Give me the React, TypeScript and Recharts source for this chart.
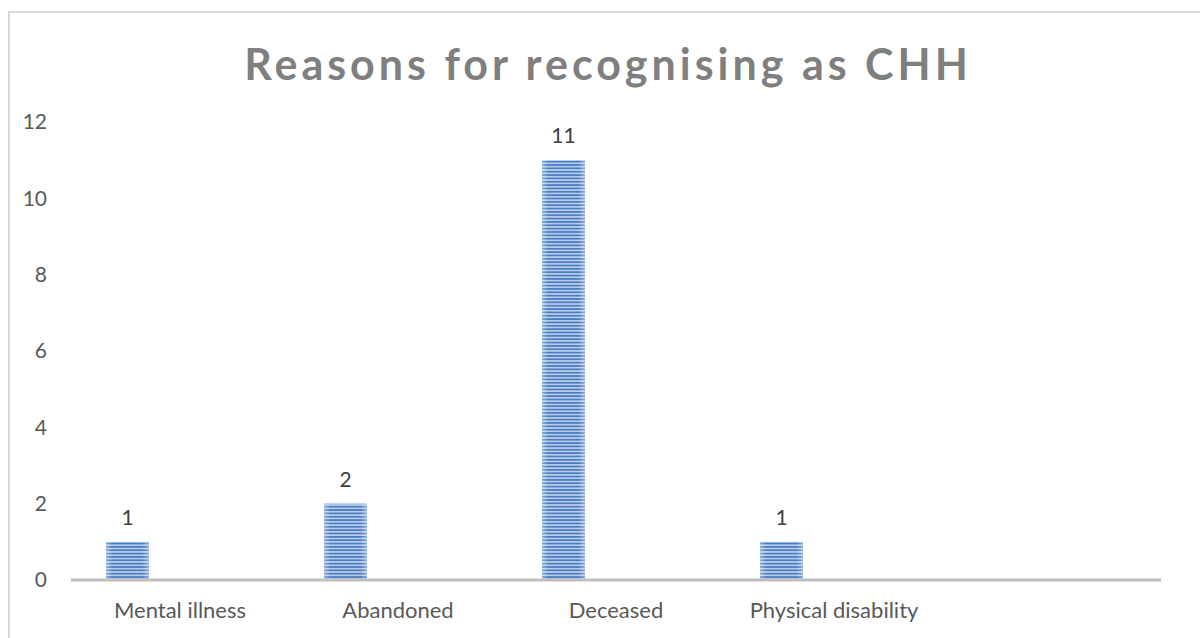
import React from 'react';
import { BarChart, Bar, XAxis, YAxis, LabelList } from 'recharts';

const categories = ['Mental illness', 'Abandoned', 'Deceased', 'Physical disability', ''];
const counts = [1, 2, 11, 1, null];
const emptySeries = [null, null, null, null, null];
const yTicks = [0, 2, 4, 6, 8, 10, 12];

const data = categories.map((name, i) => ({ name, count: counts[i], empty: emptySeries[i] }));

const FONT = 'Lato, "Open Sans", sans-serif';

const StripedBar = (props: any) => {
  const { x, y, width, height } = props;
  if (!height || height <= 0) return null;
  return (
    <g>
      <rect x={x} y={y} width={width} height={height} fill="url(#stripes)" />
      <rect x={x} y={y} width={width} height={height} fill="url(#edgeGlow)" />
    </g>
  );
};

const App: React.FC = () => {
  return (
    <div style={{ position: 'absolute', left: 0, top: 0, width: 1200, height: 638, background: '#fff', overflow: 'hidden' }}>
      <div
        style={{
          position: 'absolute',
          left: 8,
          top: 11,
          width: 1200,
          height: 640,
          border: '2px solid #d9d9d9',
          boxSizing: 'border-box',
        }}
      />
      <div
        style={{
          position: 'absolute',
          left: 0,
          top: 38,
          width: 1216,
          textAlign: 'center',
          fontFamily: FONT,
          fontWeight: 'bold',
          fontSize: 43,
          letterSpacing: 4,
          color: '#7f7f7f',
        }}
      >
        Reasons for recognising as CHH
      </div>
      <div style={{ position: 'absolute', left: 0, top: 0 }}>
        <BarChart
          width={1200}
          height={638}
          data={data}
          margin={{ top: 122, right: 39, bottom: 18, left: 0 }}
          barSize={43}
          barGap={63}
        >
          <defs>
            <pattern id="stripes" width="8" height="3.35" patternUnits="userSpaceOnUse">
              <rect x="0" y="0" width="8" height="3.35" fill="#b9cdea" />
              <rect x="0" y="0" width="8" height="1.7" fill="#4a7cc2" />
            </pattern>
            <linearGradient id="edgeGlow" x1="0" y1="0" x2="1" y2="0">
              <stop offset="0" stopColor="#ffffff" stopOpacity={0.35} />
              <stop offset="0.15" stopColor="#ffffff" stopOpacity={0} />
              <stop offset="0.85" stopColor="#ffffff" stopOpacity={0} />
              <stop offset="1" stopColor="#ffffff" stopOpacity={0.35} />
            </linearGradient>
          </defs>
          <XAxis
            dataKey="name"
            axisLine={{ stroke: '#bfbfbf', strokeWidth: 3 }}
            tickLine={false}
            tickSize={0}
            tickMargin={22}
            height={40}
            interval={0}
            tick={{ fill: '#595959', fontSize: 22, fontFamily: FONT }}
          />
          <YAxis
            domain={[0, 12]}
            ticks={yTicks}
            width={71}
            axisLine={false}
            tickLine={false}
            tickSize={0}
            tickMargin={24}
            tick={{ fill: '#595959', fontSize: 21, fontFamily: FONT }}
          />
          <Bar dataKey="count" shape={<StripedBar />} isAnimationActive={false}>
            <LabelList
              dataKey="count"
              position="top"
              offset={17}
              fill="#404040"
              fontSize={21}
              fontFamily={FONT}
            />
          </Bar>
          <Bar dataKey="empty" fill="#a5a5a5" isAnimationActive={false} />
        </BarChart>
      </div>
    </div>
  );
};

export default App;
